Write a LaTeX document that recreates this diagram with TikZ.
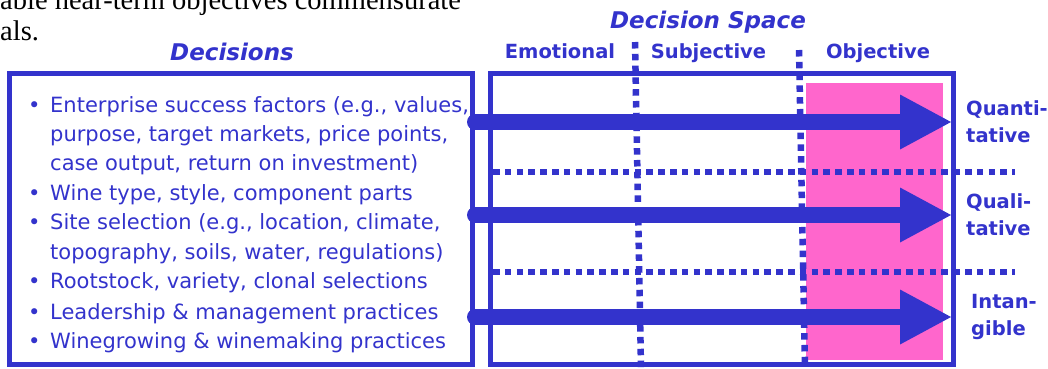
\documentclass[tikz,border=0pt]{standalone}
\usepackage{fontspec}
\setmainfont{Liberation Serif}
\setsansfont{DejaVu Sans}
\usepackage{tikz}
\usetikzlibrary{positioning,arrows.meta}
\usepackage{xcolor}
\definecolor{vblue}{RGB}{51,51,204}
\definecolor{vpink}{RGB}{255,102,204}

\begin{document}
\begin{tikzpicture}[x=1pt,y=-1pt,
    pagetext/.style={anchor=base west,inner sep=0pt,font=\fontsize{28.5}{31}\selectfont},
    box/.style={draw=vblue,line width=5pt,minimum width=463pt,minimum height=291pt},
    heading/.style={anchor=base,text=vblue,font=\sffamily\bfseries\itshape\fontsize{23}{25}\selectfont},
    column/.style={anchor=base,text=vblue,font=\sffamily\bfseries\fontsize{19.5}{22}\selectfont},
    grade/.style={anchor=west,align=left,inner sep=0pt,text=vblue,font=\sffamily\bfseries\fontsize{19.5}{27}\selectfont},
    gridline/.style={draw=vblue,line width=6.5pt,dash pattern=on 6.5pt off 5.3pt},
    bigarrow/.style={draw=vblue,line width=16pt,line cap=round,shorten >=4.5pt,
      -{Triangle[length=51pt,width=55pt,line width=0pt]}}]
  \useasboundingbox (0,0) rectangle (1048,368);
  % running text of the page
  \node[pagetext] (page1) at (0,9) {able near-term objectives commensurate};
  \node[pagetext] (page2) at (0,40) {als.};

  % objective column
  \fill[vpink] (806,83) rectangle (943,360);

  % frames
  \node[box] (dec) at (241,219) {};
  \node[box] (space) [right=12.5pt of dec] {};

  \node[heading] (dectitle) at (232,60) {Decisions};
  \node[heading] (spacetitle) at (708,28) {Decision Space};
  \node[column] (emo) at (560,58) {Emotional};
  \node[column] (subj) at (708.5,58) {Subjective};
  \node[column] (obj) at (878,58) {Objective};

  % column and row separators
  \draw[gridline] (635,42) -- (641,368);
  \draw[gridline] (799,50) -- (805,368);
  \draw[gridline] (493,172) -- (1015,172);
  \draw[gridline] (493,272) -- (1015,272);

  \node[anchor=north west,inner sep=0pt,align=left,text=vblue,
    font=\sffamily\fontsize{21}{29.4}\selectfont] (declist) at (28,96) {%
    \makebox[22pt][l]{•}Enterprise success factors (e.g., values,\\
    \hspace*{22pt}purpose, target markets, price points,\\
    \hspace*{22pt}case output, return on investment)\\
    \makebox[22pt][l]{•}Wine type, style, component parts\\
    \makebox[22pt][l]{•}Site selection (e.g., location, climate,\\
    \hspace*{22pt}topography, soils, water, regulations)\\
    \makebox[22pt][l]{•}Rootstock, variety, clonal selections\\[1.5pt]
    \makebox[22pt][l]{•}Leadership \& management practices\\
    \makebox[22pt][l]{•}Winegrowing \& winemaking practices};

  \node[grade] (quant) at (966,122) {Quanti-\\tative};
  \node[grade] (qual) at (966,215) {Quali-\\tative};
  \node[grade] (intan) at (971,317) {Intan-\\gible};

  \draw[bigarrow] (dec.east |- quant.west) -- (space.east |- quant.west);
  \draw[bigarrow] (dec.east |- qual.west) -- (space.east |- qual.west);
  \draw[bigarrow] (dec.east |- intan.west) -- (space.east |- intan.west);
\end{tikzpicture}
\end{document}
